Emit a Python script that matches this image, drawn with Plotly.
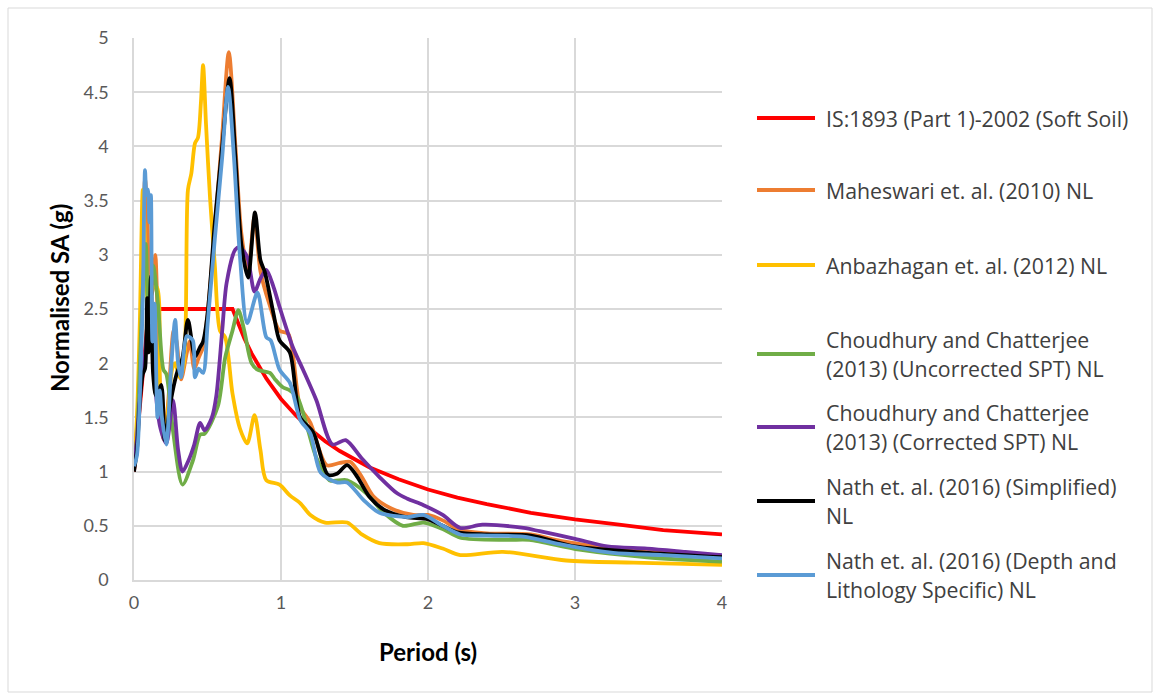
import plotly.graph_objects as go

# ---- data: period T (s) and normalised spectral acceleration SA (g) ----
T_IS1893 = [0.0, 0.1, 0.67, 0.7, 0.75, 0.8, 0.9, 1.0, 1.1, 1.2, 1.3, 1.4, 1.5, 1.6, 1.8,
            2.0, 2.2, 2.4, 2.7, 3.0, 3.3, 3.6, 4.0]
SA_IS1893 = [1.0, 2.5, 2.5, 2.39, 2.23, 2.09, 1.86, 1.67, 1.52, 1.39, 1.28, 1.19, 1.11, 1.04,
             0.93, 0.835, 0.76, 0.70, 0.62, 0.56, 0.51, 0.46, 0.42]

T_MAHESWARI = [0.0, 0.02, 0.04, 0.06, 0.075, 0.09, 0.11, 0.13, 0.145, 0.17, 0.2, 0.23, 0.27,
               0.29, 0.32, 0.36, 0.38, 0.41, 0.44, 0.47, 0.5, 0.55, 0.6, 0.645, 0.69, 0.73,
               0.775, 0.82, 0.86, 0.92, 0.99, 1.05, 1.13, 1.2, 1.31, 1.4, 1.47, 1.55, 1.63,
               1.75, 1.9, 2.0, 2.1, 2.22, 2.4, 2.7, 2.9, 3.2, 3.5, 3.8, 4.0]
SA_MAHESWARI = [1.05, 1.4, 2.1, 3.0, 3.7, 3.4, 2.6, 2.7, 3.0, 2.0, 1.3, 1.6, 2.3, 2.2, 1.85,
                2.1, 2.2, 1.95, 2.05, 2.15, 2.45, 3.25, 4.1, 4.87, 4.0, 3.2, 2.85, 3.35, 2.85,
                2.55, 2.3, 2.27, 1.6, 1.45, 1.06, 1.08, 1.09, 0.95, 0.77, 0.66, 0.6, 0.6,
                0.55, 0.46, 0.43, 0.42, 0.36, 0.3, 0.27, 0.24, 0.22]

T_ANBAZHAGAN = [0.0, 0.02, 0.04, 0.06, 0.08, 0.1, 0.13, 0.156, 0.177, 0.21, 0.26, 0.28, 0.31,
                0.34, 0.367, 0.39, 0.415, 0.435, 0.455, 0.47, 0.49, 0.517, 0.55, 0.585, 0.62,
                0.67, 0.72, 0.77, 0.82, 0.86, 0.9, 0.99, 1.06, 1.13, 1.2, 1.3, 1.45, 1.55,
                1.67, 1.86, 1.97, 2.1, 2.22, 2.51, 2.94, 3.4, 4.0]
SA_ANBAZHAGAN = [1.05, 1.5, 2.4, 3.6, 2.9, 2.5, 2.7, 2.7, 1.72, 1.3, 1.95, 2.0, 1.87, 2.0, 3.6,
                 3.75, 4.03, 4.08, 4.4, 4.75, 4.2, 3.53, 2.9, 2.3, 2.24, 1.72, 1.4, 1.26,
                 1.52, 1.2, 0.92, 0.88, 0.78, 0.71, 0.6, 0.53, 0.53, 0.42, 0.34, 0.33, 0.34,
                 0.29, 0.23, 0.26, 0.18, 0.16, 0.14]

T_CC_UNCORR = [0.0, 0.02, 0.04, 0.06, 0.08, 0.1, 0.13, 0.163, 0.2, 0.22, 0.265, 0.33, 0.4,
               0.45, 0.48, 0.57, 0.62, 0.67, 0.71, 0.75, 0.8, 0.84, 0.925, 0.96, 1.01, 1.06,
               1.11, 1.18, 1.24, 1.33, 1.45, 1.58, 1.7, 1.83, 1.97, 2.1, 2.22, 2.54, 2.69,
               3.03, 3.49, 4.0]
SA_CC_UNCORR = [1.05, 1.3, 2.0, 2.7, 3.1, 2.3, 2.9, 2.55, 1.94, 1.9, 1.38, 0.88, 1.1, 1.34,
                1.35, 1.6, 2.05, 2.3, 2.49, 2.3, 2.0, 1.94, 1.91, 1.85, 1.78, 1.75, 1.69,
                1.4, 1.13, 0.92, 0.92, 0.8, 0.62, 0.5, 0.53, 0.47, 0.39, 0.37, 0.37, 0.28,
                0.21, 0.17]

T_CC_CORR = [0.0, 0.02, 0.05, 0.07, 0.09, 0.11, 0.13, 0.15, 0.18, 0.22, 0.265, 0.3, 0.33,
             0.37, 0.41, 0.45, 0.48, 0.53, 0.56, 0.6, 0.63, 0.69, 0.72, 0.77, 0.82, 0.86,
             0.9, 0.95, 0.99, 1.08, 1.15, 1.24, 1.35, 1.44, 1.55, 1.67, 1.79, 1.86, 1.97,
             2.1, 2.22, 2.37, 2.65, 2.76, 3.0, 3.22, 3.49, 3.75, 4.0]
SA_CC_CORR = [1.05, 1.3, 1.85, 2.0, 2.3, 2.6, 2.2, 1.7, 1.4, 1.26, 1.66, 1.2, 1.0, 1.1, 1.25,
              1.45, 1.38, 1.5, 1.7, 2.3, 2.74, 3.05, 3.07, 2.98, 2.66, 2.78, 2.86, 2.7,
              2.52, 2.15, 1.94, 1.66, 1.25, 1.29, 1.12, 0.95, 0.8, 0.75, 0.69, 0.6, 0.48,
              0.51, 0.48, 0.45, 0.38, 0.31, 0.29, 0.26, 0.23]

T_NATH_SIMPL = [0.0, 0.02, 0.04, 0.06, 0.075, 0.09, 0.1, 0.115, 0.13, 0.15, 0.185, 0.21, 0.25,
                0.29, 0.33, 0.367, 0.415, 0.45, 0.47, 0.5, 0.55, 0.6, 0.65, 0.69, 0.73, 0.776,
                0.823, 0.86, 0.89, 0.95, 0.99, 1.06, 1.13, 1.22, 1.32, 1.38, 1.45, 1.52, 1.6,
                1.7, 1.85, 2.0, 2.1, 2.2, 2.4, 2.7, 3.0, 3.5, 4.0]
SA_NATH_SIMPL = [1.0, 1.2, 1.65, 1.9, 1.95, 2.6, 2.1, 2.8, 1.9, 1.7, 1.8, 1.29, 1.65, 1.9,
                 2.05, 2.4, 2.06, 2.15, 2.2, 2.45, 3.3, 4.0, 4.63, 3.9, 3.1, 2.79, 3.39, 2.95,
                 2.84, 2.45, 2.21, 2.1, 1.5, 1.36, 0.97, 0.98, 1.06, 0.95, 0.77, 0.65, 0.58,
                 0.56, 0.5, 0.44, 0.42, 0.41, 0.31, 0.25, 0.21]

T_NATH_DEPTH = [0.0, 0.02, 0.04, 0.06, 0.075, 0.085, 0.095, 0.105, 0.115, 0.125, 0.14, 0.16,
                0.175, 0.19, 0.22, 0.25, 0.28, 0.3, 0.32, 0.36, 0.4, 0.415, 0.44, 0.47, 0.5,
                0.55, 0.6, 0.64, 0.68, 0.72, 0.77, 0.84, 0.9, 0.93, 0.99, 1.06, 1.13, 1.2,
                1.27, 1.38, 1.45, 1.56, 1.67, 1.86, 1.97, 2.1, 2.22, 2.4, 2.65, 2.9, 3.26,
                3.6, 4.0]
SA_NATH_DEPTH = [1.05, 1.15, 1.7, 2.6, 3.78, 3.55, 3.6, 3.3, 3.55, 2.2, 2.55, 1.5, 1.75, 1.5,
                 1.25, 1.9, 2.4, 2.0, 1.87, 2.25, 2.21, 1.87, 1.95, 1.91, 2.35, 3.15, 3.9,
                 4.55, 3.9, 3.0, 2.37, 2.65, 2.24, 2.21, 1.94, 1.82, 1.48, 1.35, 0.99, 0.9,
                 0.9, 0.74, 0.62, 0.58, 0.6, 0.5, 0.42, 0.41, 0.4, 0.33, 0.25, 0.23, 0.2]

SERIES_LABELS = [
    ["IS:1893 (Part 1)-2002 (Soft Soil)"],
    ["Maheswari et. al. (2010) NL"],
    ["Anbazhagan et. al. (2012) NL"],
    ["Choudhury and Chatterjee", "(2013) (Uncorrected SPT) NL"],
    ["Choudhury and Chatterjee", "(2013) (Corrected SPT) NL"],
    ["Nath et. al. (2016) (Simplified)", "NL"],
    ["Nath et. al. (2016) (Depth and", "Lithology Specific) NL"],
]
SERIES_COLORS = ["#ff0000", "#ed7d31", "#ffc000", "#70ad47", "#7030a0", "#000000", "#5b9bd5"]
X_TICKS = [0, 1, 2, 3, 4]
Y_TICKS = [0, 0.5, 1, 1.5, 2, 2.5, 3, 3.5, 4, 4.5, 5]
Y_TICK_TEXT = ["0", "0.5", "1", "1.5", "2", "2.5", "3", "3.5", "4", "4.5", "5"]

series = [
    (T_IS1893, SA_IS1893, "linear"),
    (T_MAHESWARI, SA_MAHESWARI, "spline"),
    (T_ANBAZHAGAN, SA_ANBAZHAGAN, "spline"),
    (T_CC_UNCORR, SA_CC_UNCORR, "spline"),
    (T_CC_CORR, SA_CC_CORR, "spline"),
    (T_NATH_SIMPL, SA_NATH_SIMPL, "spline"),
    (T_NATH_DEPTH, SA_NATH_DEPTH, "spline"),
]

# ---- layout geometry (pixels) ----
W, H = 1154, 695
ML, MR, MT, MB = 134, 432, 38, 115
PW, PH = W - ML - MR, H - MT - MB
FONT = "Lato"
LEGEND_FONT = "Open Sans"
GRID = "#d9d9d9"
LINE_W = 3.8


def px_x(p):
    return (p - ML) / PW


def px_y(p):
    return (H - MB - p) / PH


fig = go.Figure()
for (tx, sa, shape), lab, col in zip(series, SERIES_LABELS, SERIES_COLORS):
    line = dict(color=col, width=LINE_W, shape=shape)
    if shape == "spline":
        line["smoothing"] = 0.8
    fig.add_trace(go.Scatter(x=tx, y=sa, mode="lines", line=line,
                             name=" ".join(lab), showlegend=False, hoverinfo="x+y+name"))

shapes = [
    # outer chart-area frame
    dict(type="rect", xref="paper", yref="paper",
         x0=px_x(8), x1=px_x(1152), y0=px_y(692), y1=px_y(8),
         line=dict(color=GRID, width=1), layer="below"),
]
annotations = []

# legend drawn on the right: line sample plus (possibly two-line) label
entry_centres = [118, 190, 265, 354, 427, 501, 575]
for lab, col, yc in zip(SERIES_LABELS, SERIES_COLORS, entry_centres):
    shapes.append(dict(type="line", xref="paper", yref="paper",
                       x0=px_x(757), x1=px_x(815), y0=px_y(yc), y1=px_y(yc),
                       line=dict(color=col, width=LINE_W)))
    n = len(lab)
    for i, txt in enumerate(lab):
        yy = yc + (i - (n - 1) / 2) * 28.5
        annotations.append(dict(text=txt, xref="paper", yref="paper",
                                x=px_x(824), y=px_y(yy), xanchor="left", yanchor="middle",
                                showarrow=False,
                                font=dict(family=LEGEND_FONT, size=21.3, color="#404040")))

# axis titles
annotations.append(dict(text="<b>Period (s)</b>", xref="paper", yref="paper",
                        x=px_x(428), y=px_y(651), xanchor="center", yanchor="middle",
                        showarrow=False, font=dict(family=FONT, size=24, color="#000000")))
annotations.append(dict(text="<b>Normalised SA (g)</b>", xref="paper", yref="paper",
                        x=px_x(59), y=px_y(298), xanchor="center", yanchor="middle",
                        textangle=-90, showarrow=False,
                        font=dict(family=FONT, size=24, color="#000000")))

fig.update_layout(
    width=W, height=H,
    margin=dict(l=ML, r=MR, t=MT, b=MB, autoexpand=False),
    paper_bgcolor="white", plot_bgcolor="white",
    font=dict(family=FONT, size=18, color="#595959"),
    shapes=shapes, annotations=annotations,
    xaxis=dict(range=[0, 4], tickvals=X_TICKS, showgrid=True, gridcolor=GRID, gridwidth=1.5,
               zeroline=False, showline=True, linecolor=GRID, linewidth=1.5, mirror=False,
               ticks="", ticklabelstandoff=6, tickfont=dict(size=18, color="#595959")),
    yaxis=dict(range=[0, 5], tickvals=Y_TICKS, ticktext=Y_TICK_TEXT, showgrid=True,
               gridcolor=GRID, gridwidth=1.5, zeroline=False, showline=True, linecolor=GRID,
               linewidth=1.5, ticks="", ticklabelstandoff=20,
               tickfont=dict(size=18, color="#595959")),
)

fig.write_html("out.html")
